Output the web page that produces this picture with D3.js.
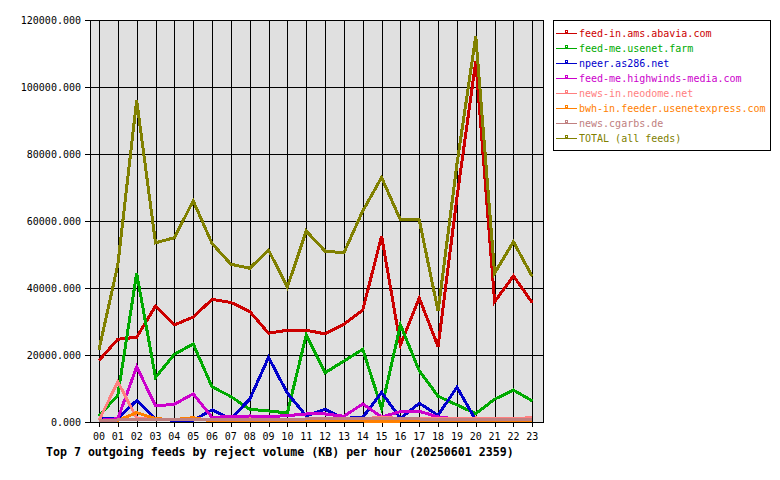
<!DOCTYPE html>
<html><head><meta charset="utf-8">
<script src="https://cdn.jsdelivr.net/npm/d3@7"></script>
<style>body{margin:0;background:#fff}svg{display:block}</style>
</head><body>
<script>
const hours = ["00","01","02","03","04","05","06","07","08","09","10","11","12","13","14","15","16","17","18","19","20","21","22","23"];
const yTicks = [0, 20000, 40000, 60000, 80000, 100000, 120000];
const feedNames = ["feed-in.ams.abavia.com","feed-me.usenet.farm","npeer.as286.net","feed-me.highwinds-media.com","news-in.neodome.net","bwh-in.feeder.usenetexpress.com","news.cgarbs.de","TOTAL (all feeds)"];
const feedColors = ["#cc0000","#00aa00","#0000cc","#cc00cc","#ff8080","#ff8000","#c08080","#808000"];
const abavia   = [18400,24700,25300,34600,29000,31300,36600,35700,33000,26500,27400,27400,26300,29200,33400,55500,23000,37000,22500,67000,107700,35900,43600,35600];
const usenetFarm = [1800,8000,44400,13300,20200,23300,10500,7600,3800,3300,2700,26000,14700,18200,21700,4100,29000,15300,7700,5100,2500,6800,9500,6300];
const as286    = [900,1100,6400,900,500,500,3600,1000,6800,19300,8600,1800,3800,1100,1400,8800,1100,5600,2000,10400,600,400,600,400];
const highwinds = [500,1000,16500,4800,5300,8400,1400,1600,1800,1600,1900,2400,2400,1700,5400,1500,3100,3200,1500,900,800,800,700,700];
const neodome  = [500,12000,1200,700,600,600,700,800,900,800,800,900,1000,1000,900,1500,1000,900,1100,900,1200,1100,1000,1300];
const usenetexpress = [300,500,2800,1000,700,1300,300,400,300,300,300,300,300,300,300,200,300,300,300,300,500,300,300,300];
const cgarbs   = [500,600,700,700,700,800,700,800,800,800,800,900,900,900,1000,1000,900,900,800,600,800,700,700,800];
const total    = [21600,47000,96000,53500,55000,66000,53300,47100,45900,51300,40300,57000,51000,50500,63000,73000,60300,60300,33100,77000,115200,44400,53800,43400];
const seriesValues = [abavia, usenetFarm, as286, highwinds, neodome, usenetexpress, cgarbs, total];
const title = "Top 7 outgoing feeds by reject volume (KB) per hour (20250601 2359)";

const W = 780, H = 480;
const L = 90, R = 543, T = 20, B = 422;
const svg = d3.select("body").append("svg").attr("width", W).attr("height", H);
const font = "'DejaVu Sans Mono', 'Liberation Mono', monospace";

const x = d3.scaleLinear().domain([0, 23]).range([99, 532.3]);
const y = d3.scaleLinear().domain([0, 120000]).range([B, T]);

svg.append("rect").attr("x", L).attr("y", T).attr("width", R - L).attr("height", B - T).attr("fill", "#e0e0e0");

const g = svg.append("g").attr("shape-rendering", "crispEdges");
// grid
g.selectAll(".vg").data(hours).enter().append("line")
  .attr("x1", (d,i) => Math.round(x(i)) + 0.5).attr("x2", (d,i) => Math.round(x(i)) + 0.5)
  .attr("y1", T).attr("y2", B + 5).attr("stroke", "#000");
g.selectAll(".hg").data(yTicks).enter().append("line")
  .attr("x1", L - 5).attr("x2", R).attr("y1", d => Math.round(y(d)) + 0.5).attr("y2", d => Math.round(y(d)) + 0.5)
  .attr("stroke", "#000");
g.append("rect").attr("x", L + 0.5).attr("y", T + 0.5).attr("width", R - L).attr("height", B - T)
  .attr("fill", "none").attr("stroke", "#000");

// labels
svg.selectAll(".yl").data(yTicks).enter().append("text")
  .attr("x", 81).attr("y", d => y(d) + 4).attr("text-anchor", "end")
  .attr("font-family", font).attr("font-size", "10px").text(d => d3.format(".3f")(d));
svg.selectAll(".xl").data(hours).enter().append("text")
  .attr("x", (d,i) => x(i)).attr("y", 440).attr("text-anchor", "middle")
  .attr("font-family", font).attr("font-size", "10px").text(d => d);
svg.append("text").attr("x", 46).attr("y", 456).attr("font-family", font).attr("font-weight", "bold")
  .attr("font-size", "11.6px").text(title);

// lines
const line = d3.line().x((d,i) => x(i)).y(d => y(d));
seriesValues.forEach((vals, k) => {
  svg.append("path").datum(vals).attr("d", line).attr("fill", "none")
    .attr("stroke", feedColors[k]).attr("stroke-width", 3).attr("stroke-linejoin", "miter")
    .attr("shape-rendering", "crispEdges");
});

// legend
const lg = svg.append("g").attr("shape-rendering", "crispEdges");
lg.append("rect").attr("x", 553.5).attr("y", 20.5).attr("width", 217).attr("height", 130)
  .attr("fill", "#fff").attr("stroke", "#000");
feedNames.forEach((name, k) => {
  const yy = 33 + k * 15;
  lg.append("line").attr("x1", 556).attr("x2", 577).attr("y1", yy + 0.5).attr("y2", yy + 0.5).attr("stroke", feedColors[k]);
  lg.append("rect").attr("x", 565.5).attr("y", yy - 2.5).attr("width", 2).attr("height", 2)
    .attr("fill", "none").attr("stroke", feedColors[k]);
  svg.append("text").attr("x", 579).attr("y", yy + 4).attr("font-family", font).attr("font-size", "10px")
    .attr("fill", feedColors[k]).text(name);
});
</script>
</body></html>
